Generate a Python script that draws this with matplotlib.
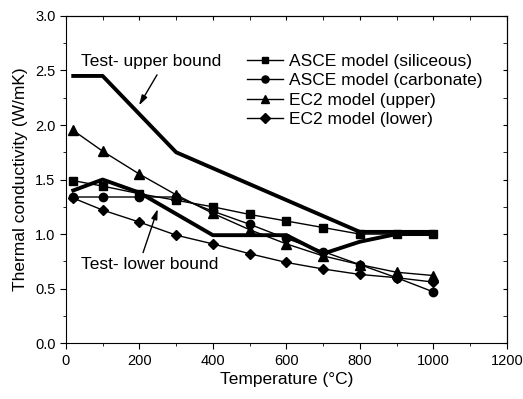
import numpy as np
import matplotlib.pyplot as plt
from matplotlib.ticker import MultipleLocator

plt.rcParams['font.family'] = ['Liberation Sans', 'DejaVu Sans']

# ASCE siliceous
t_sil = [20, 100, 200, 300, 400, 500, 600, 700, 800, 900, 1000]
k_sil = [1.49, 1.44, 1.37, 1.31, 1.25, 1.18, 1.12, 1.06, 1.00, 1.00, 1.00]
# ASCE carbonate
t_carb = [20, 100, 200, 300, 400, 500, 600, 700, 800, 900, 1000]
k_carb = [1.34, 1.34, 1.34, 1.34, 1.21, 1.09, 0.96, 0.84, 0.72, 0.60, 0.47]
# EC2 upper
t_up = [20, 100, 200, 300, 400, 500, 600, 700, 800, 900, 1000]
k_up = [1.95, 1.76, 1.55, 1.36, 1.19, 1.04, 0.91, 0.80, 0.72, 0.65, 0.62]
# EC2 lower
t_lo = [20, 100, 200, 300, 400, 500, 600, 700, 800, 900, 1000]
k_lo = [1.33, 1.22, 1.11, 0.99, 0.91, 0.82, 0.74, 0.68, 0.63, 0.60, 0.56]
# test bounds
t_tu = [20, 100, 300, 800, 1000]
k_tu = [2.45, 2.45, 1.75, 1.02, 1.02]
t_tl = [20, 100, 200, 400, 600, 700, 800, 900, 1000]
k_tl = [1.40, 1.50, 1.38, 0.99, 0.99, 0.82, 0.93, 1.00, 1.00]

fig = plt.figure(figsize=(5.23, 3.99), dpi=100)
ax = fig.add_axes([0.126, 0.140, 0.843, 0.820])

ax.plot(t_tu, k_tu, color='black', lw=2.8, zorder=3)
ax.plot(t_tl, k_tl, color='black', lw=2.8, zorder=3)

ax.plot(t_sil, k_sil, 'k-', marker='s', ms=5.5, lw=1, label='ASCE model (siliceous)')
ax.plot(t_carb, k_carb, 'k-', marker='o', ms=6, lw=1, label='ASCE model (carbonate)')
ax.plot(t_up, k_up, 'k-', marker='^', ms=6.5, lw=1, label='EC2 model (upper)')
ax.plot(t_lo, k_lo, 'k-', marker='D', ms=5.5, lw=1, label='EC2 model (lower)')

arrow = dict(arrowstyle='-|>,head_length=0.6,head_width=0.18', color='black', lw=1,
             shrinkA=0, shrinkB=0)
ax.text(40, 2.58, 'Test- upper bound', fontsize=12.5, va='center')
ax.annotate('', xy=(199, 2.18), xytext=(248, 2.46), arrowprops=arrow)
ax.text(42, 0.72, 'Test- lower bound', fontsize=12.5, va='center')
ax.annotate('', xy=(250, 1.23), xytext=(210, 0.83), arrowprops=arrow)

ax.set_xlim(0, 1200)
ax.set_ylim(0, 3.0)
ax.xaxis.set_major_locator(MultipleLocator(200))
ax.xaxis.set_minor_locator(MultipleLocator(100))
ax.yaxis.set_major_locator(MultipleLocator(0.5))
ax.yaxis.set_minor_locator(MultipleLocator(0.25))
ax.yaxis.set_major_formatter(plt.FormatStrFormatter('%.1f'))
ax.tick_params(which='major', direction='out', length=4, labelsize=10.5)
ax.tick_params(which='minor', direction='out', length=2)

secx = ax.secondary_xaxis('top')
secx.xaxis.set_major_locator(MultipleLocator(200))
secx.xaxis.set_minor_locator(MultipleLocator(100))
secx.tick_params(which='both', direction='in', labeltop=False, length=3)
secy = ax.secondary_yaxis('right')
secy.yaxis.set_major_locator(MultipleLocator(0.5))
secy.yaxis.set_minor_locator(MultipleLocator(0.25))
secy.tick_params(which='both', direction='in', labelright=False, length=3)

ax.set_xlabel('Temperature (°C)', fontsize=12.5, labelpad=3)
ax.set_ylabel('Thermal conductivity (W/mK)', fontsize=12.5, labelpad=5)

ax.legend(loc='upper left', bbox_to_anchor=(0.41, 0.885), frameon=False, fontsize=12.5,
          handlelength=2.1, handletextpad=0.35, labelspacing=0.25, borderpad=0,
          borderaxespad=0, markerscale=0.85)

fig.savefig('out.png', dpi=100)
